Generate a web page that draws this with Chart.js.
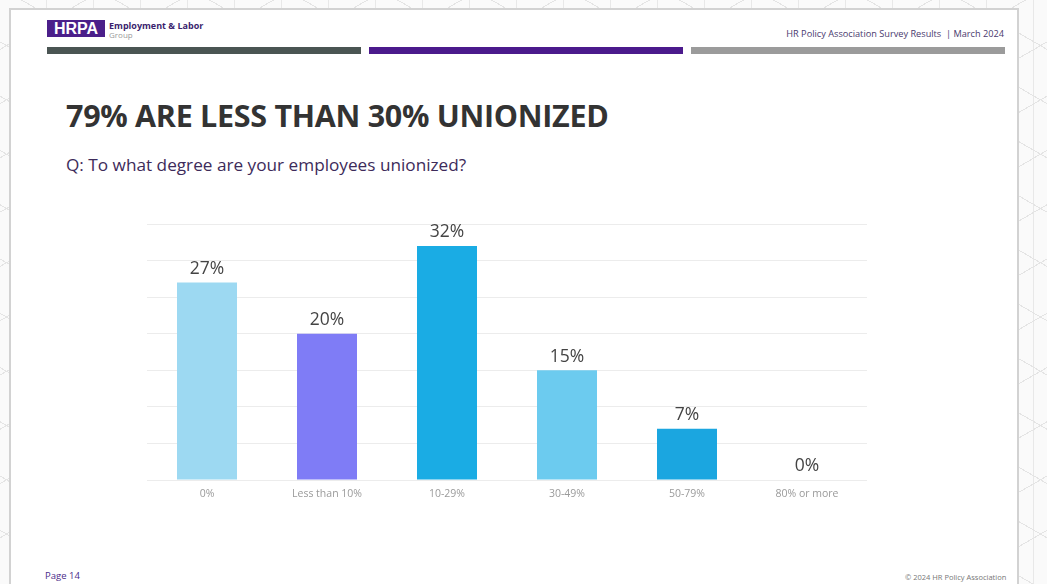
<!DOCTYPE html>
<html>
<head>
<meta charset="utf-8">
<script src="https://cdn.jsdelivr.net/npm/chart.js@4.4.1/dist/chart.umd.min.js"></script>
<style>
  html,body{margin:0;padding:0;}
  body{width:1047px;height:584px;position:relative;overflow:hidden;background:#fff;
    font-family:"Open Sans","Noto Sans",sans-serif;}
  .bg{position:absolute;left:0;top:0;width:1047px;height:584px;
    background:
      repeating-linear-gradient(30deg, transparent 0 46px, #e4e4e4 46px 47px),
      repeating-linear-gradient(-30deg, transparent 0 46px, #e4e4e4 46px 47px),
      repeating-linear-gradient(90deg, transparent 0 46px, #e8e8e8 46px 47px),
      #fafafa;}
  .card{position:absolute;left:9px;top:8px;width:1010px;height:600px;background:#fff;border:2px solid #d2d2d2;box-sizing:border-box;}
  .abs{position:absolute;white-space:nowrap;}
  #logo{left:47px;top:20px;width:58px;height:17px;background:#4b1f8a;color:#fff;font:bold 16px/17px "Liberation Sans",Arial,sans-serif;text-align:center;}
  #grp1{left:109px;top:19px;font:bold 9px "Open Sans",sans-serif;color:#3b1f6e;}
  #grp2{left:109px;top:29px;font:8px "Open Sans",sans-serif;color:#9a9a9a;}
  .bar{position:absolute;top:47px;height:7px;}
  #hdr{right:43px;top:27px;font:9.2px "Open Sans",sans-serif;color:#4a3a6e;}
  #title{left:66px;top:94px;font:bold 30.5px "Open Sans",sans-serif;color:#333;letter-spacing:-0.3px;}
  #sub{left:66px;top:153px;font:17.2px "Open Sans",sans-serif;color:#3d2b5a;}
  #page{left:45px;top:569px;font:9.5px "Open Sans",sans-serif;color:#4b2c8a;}
  #copy{left:905px;top:572px;font:7.5px "Open Sans",sans-serif;color:#777;}
  #wrap{position:absolute;left:147px;top:200px;width:720px;height:310px;}
</style>
</head>
<body>
<div class="bg"></div>
<div class="card"></div>
<div class="abs" id="logo">HRPA</div>
<div class="abs" id="grp1">Employment &amp; Labor</div>
<div class="abs" id="grp2">Group</div>
<div class="bar" style="left:47px;width:314px;background:#4a5553;"></div>
<div class="bar" style="left:369px;width:314px;background:#4b1a8c;"></div>
<div class="bar" style="left:691px;width:314px;background:#9b9b9b;"></div>
<div class="abs" id="hdr">HR Policy Association Survey Results&nbsp; | March 2024</div>
<div class="abs" id="title">79% ARE LESS THAN 30% UNIONIZED</div>
<div class="abs" id="sub">Q: To what degree are your employees unionized?</div>
<div class="abs" id="page">Page 14</div>
<div class="abs" id="copy">© 2024 HR Policy Association</div>
<div id="wrap"><canvas id="c"></canvas></div>
<script>
const categories = ["0%", "Less than 10%", "10-29%", "30-49%", "50-79%", "80% or more"];
const values = [27, 20, 32, 15, 7, 0];
const barColors = ["#9dd9f2", "#7f7cf6", "#1aace4", "#6ccbef", "#1ba6e0", "#1aace4"];
const yTicks = [0, 5, 10, 15, 20, 25, 30, 35];

const labelPlugin = {
  id: "valueLabels",
  afterDatasetsDraw(chart) {
    const ctx = chart.ctx;
    const meta = chart.getDatasetMeta(0);
    ctx.save();
    ctx.font = '17.5px "Open Sans", sans-serif';
    ctx.fillStyle = "#444";
    ctx.textAlign = "center";
    ctx.textBaseline = "bottom";
    meta.data.forEach((bar, i) => {
      ctx.fillText(values[i] + "%", bar.x, bar.y - 5);
    });
    ctx.restore();
  }
};

new Chart(document.getElementById("c"), {
  type: "bar",
  data: {
    labels: categories,
    datasets: [{ data: values, backgroundColor: barColors, borderWidth: 0,
      categoryPercentage: 1, barPercentage: 0.5 }]
  },
  options: {
    responsive: true,
    maintainAspectRatio: false,
    animation: false,
    layout: { padding: { top: 24, left: 0, right: 0, bottom: 0 } },
    plugins: { legend: { display: false }, tooltip: { enabled: false } },
    scales: {
      x: {
        grid: { display: false },
        border: { display: false },
        ticks: { color: "#9a9a9a", font: { size: 10.5, family: '"Open Sans", sans-serif' }, padding: 0, maxRotation: 0 },
        afterFit: s => { s.height = 30; }
      },
      y: {
        min: 0, max: 35,
        afterBuildTicks: s => { s.ticks = yTicks.map(v => ({ value: v })); },
        grid: { color: "#ececec", drawTicks: false },
        border: { display: false },
        ticks: { display: false },
        afterFit: s => { s.width = 0; }
      }
    }
  },
  plugins: [labelPlugin]
});
</script>
</body>
</html>
